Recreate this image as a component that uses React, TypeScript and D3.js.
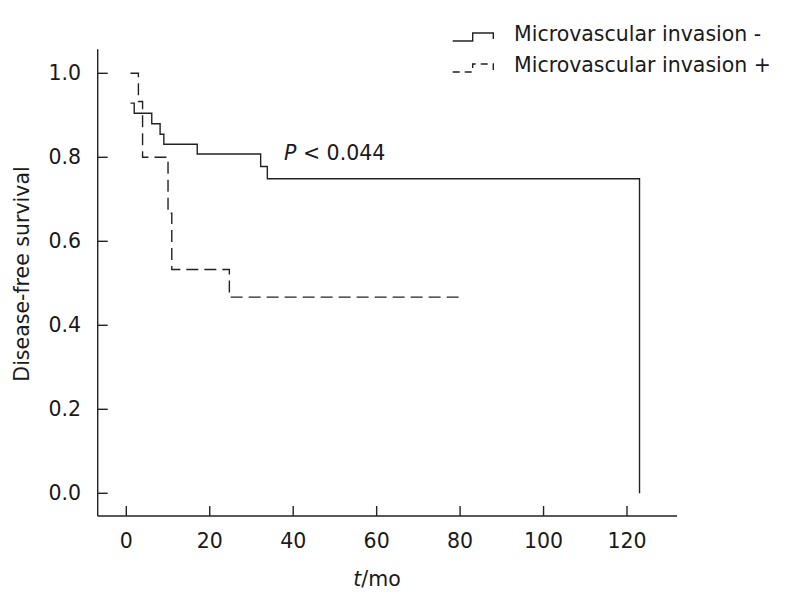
import * as d3 from "d3";

// survival curves (months, disease-free survival)
const negTimes = [1, 1.9, 6.1, 8.1, 9.0, 17.0, 32.2, 33.8, 123];
const negSurv = [0.929, 0.905, 0.88, 0.855, 0.831, 0.808, 0.778, 0.749, 0];
const posTimes = [1, 2.9, 3.9, 10.0, 10.9, 24.7, 80];
const posSurv = [1, 0.933, 0.8, 0.667, 0.533, 0.467, 0.467];

const xTicks = [0, 20, 40, 60, 80, 100, 120];
const yTicks = [0, 0.2, 0.4, 0.6, 0.8, 1.0];
const legendLabels = ["Microvascular invasion -", "Microvascular invasion +"];

const W = 787;
const H = 599;
const FONT = "DejaVu Sans, Verdana, sans-serif";
const FS = 20.5;
const INK = "#1a1a1a";
const LINE = "#222";
const DASH = "12,6";

const AX = { left: 97.7, top: 49.3, bottom: 516, right: 677, tick: 10 };

export default function App() {
  const x = d3.scaleLinear().domain([0, 120]).range([126.3, 627]);
  const y = d3.scaleLinear().domain([0, 1]).range([493.3, 73.3]);

  const line = d3
    .line<[number, number]>()
    .x((d) => x(d[0]))
    .y((d) => y(d[1]))
    .curve(d3.curveStepAfter);

  const negPath = line(negTimes.map((t, i) => [t, negSurv[i]]));
  const posPath = line(posTimes.map((t, i) => [t, posSurv[i]]));

  const legend = [
    { label: legendLabels[0], dash: undefined as string | undefined },
    { label: legendLabels[1], dash: "7,5" },
  ];

  return (
    <svg
      width={W}
      height={H}
      style={{ position: "absolute", left: 0, top: 0, background: "#fff" }}
      xmlns="http://www.w3.org/2000/svg"
    >
      {/* axes */}
      <g stroke={LINE} strokeWidth={1.4} fill="none">
        <line x1={AX.left} y1={AX.top} x2={AX.left} y2={AX.bottom} />
        <line x1={AX.left} y1={AX.bottom} x2={AX.right} y2={AX.bottom} />
        {yTicks.map((t) => (
          <line key={t} x1={AX.left} y1={y(t)} x2={AX.left + AX.tick} y2={y(t)} />
        ))}
        {xTicks.map((t) => (
          <line key={t} x1={x(t)} y1={AX.bottom} x2={x(t)} y2={AX.bottom - AX.tick} />
        ))}
      </g>

      <g fontFamily={FONT} fontSize={FS} fill={INK}>
        {yTicks.map((t) => (
          <text key={t} x={81} y={y(t)} textAnchor="end" dominantBaseline="central">
            {t.toFixed(1)}
          </text>
        ))}
        {xTicks.map((t) => (
          <text key={t} x={x(t)} y={548} textAnchor="middle">
            {t}
          </text>
        ))}
        <text x={377} y={586} textAnchor="middle">
          <tspan fontStyle="italic">t</tspan>/mo
        </text>
        <text
          transform="translate(29,274) rotate(-90)"
          textAnchor="middle"
        >
          Disease-free survival
        </text>
        <text x={284} y={160}>
          <tspan fontStyle="italic">P</tspan> &lt; 0.044
        </text>
      </g>

      {/* curves */}
      <path d={negPath ?? undefined} fill="none" stroke={LINE} strokeWidth={1.4} />
      <path
        d={posPath ?? undefined}
        fill="none"
        stroke={LINE}
        strokeWidth={1.4}
        strokeDasharray={DASH}
      />

      {/* legend */}
      {legend.map((item, i) => {
        const by = 41 + i * 31;
        return (
          <g key={i}>
            <path
              d={`M452.7,${by} H472.7 V${by - 8} H493.3 V${by - 2}`}
              fill="none"
              stroke={LINE}
              strokeWidth={1.4}
              strokeDasharray={item.dash}
            />
            <text x={514} y={by} fontFamily={FONT} fontSize={FS} fill={INK}>
              {item.label}
            </text>
          </g>
        );
      })}
    </svg>
  );
}
